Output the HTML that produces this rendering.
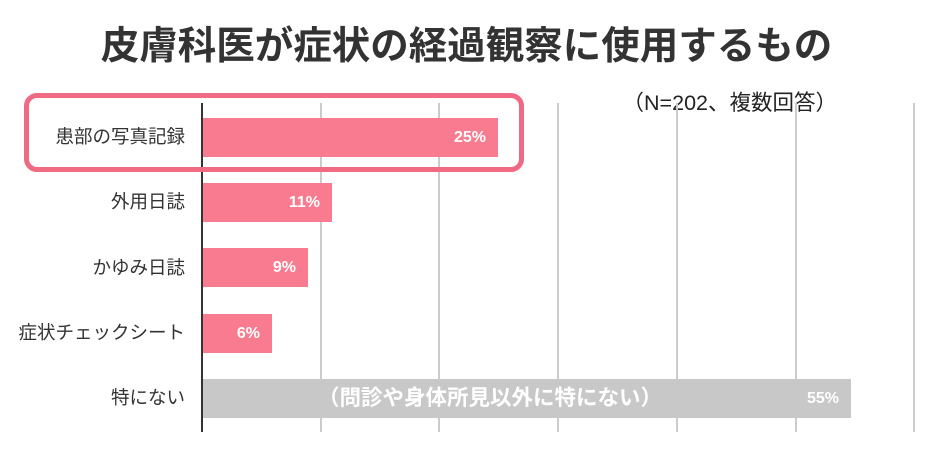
<!DOCTYPE html>
<html><head><meta charset="utf-8"><style>
body{margin:0;width:933px;height:454px;background:#fff;position:relative;overflow:hidden;font-family:"Liberation Sans","Noto Sans CJK JP",sans-serif;}
.a{position:absolute}
.g{position:absolute;top:103px;height:329px;width:1.5px;background:#ccc}
.bar{position:absolute;left:203px;height:39px;background:#f97b8f}
.v{position:absolute;color:#fff;font-weight:bold;font-size:16px;line-height:39px}
.lab{position:absolute;right:748px;font-size:18.5px;color:#333;line-height:22px;white-space:nowrap}
</style></head><body>
<div class="a" style="left:0;width:933px;top:20px;text-align:center;font-size:38.5px;font-weight:bold;color:#333;line-height:54px">皮膚科医が症状の経過観察に使用するもの</div>
<div class="a" style="right:96px;top:86px;font-size:21.5px;color:#222">（N=202、複数回答）</div>
<div class="g" style="left:320px"></div><div class="g" style="left:438px"></div><div class="g" style="left:557px"></div><div class="g" style="left:676px"></div><div class="g" style="left:795px"></div><div class="g" style="left:913px"></div>
<div class="bar" style="top:118px;width:295px"><span class="v" style="right:12px">25%</span></div>
<div class="bar" style="top:183px;width:129px"><span class="v" style="right:12px">11%</span></div>
<div class="bar" style="top:248px;width:105px"><span class="v" style="right:12px">9%</span></div>
<div class="bar" style="top:314px;width:69px"><span class="v" style="right:12px">6%</span></div>
<div class="bar" style="top:379px;width:648px;background:#c8c8c8"><span class="v" style="left:115px;font-size:21.5px">（問診や身体所見以外に特にない）</span><span class="v" style="right:12px">55%</span></div>
<div class="a" style="left:201px;top:103px;width:2px;height:329px;background:#333"></div>
<div class="lab" style="top:126px">患部の写真記録</div>
<div class="lab" style="top:191px">外用日誌</div>
<div class="lab" style="top:257px">かゆみ日誌</div>
<div class="lab" style="top:322px">症状チェックシート</div>
<div class="lab" style="top:387px">特にない</div>
<div class="a" style="left:24px;top:93px;width:490px;height:69px;border:5px solid #f06a84;border-radius:13px"></div>
</body></html>
